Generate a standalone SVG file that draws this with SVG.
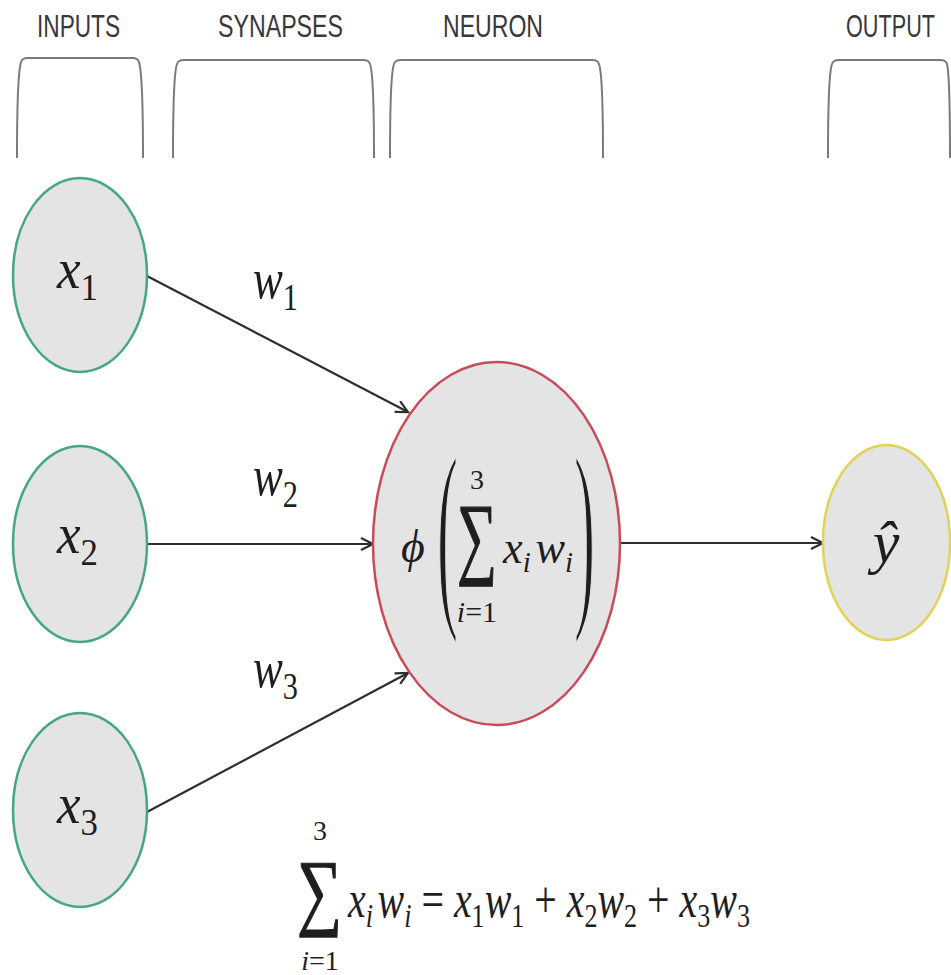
<svg xmlns="http://www.w3.org/2000/svg" width="951" height="975" viewBox="0 0 951 975">
<style>
.hdr{font-family:"Liberation Sans","DejaVu Sans Condensed",sans-serif;font-size:31px;fill:#383838}
.brk{fill:none;stroke:#7a7a7a;stroke-width:2}
.node{fill:#e4e4e4;stroke-width:2.5}
.in{stroke:#45a882}
.neu{stroke:#c84b5a}
.out{stroke:#e2d25a}
.m{font-family:"Liberation Serif","DejaVu Serif",serif;font-style:italic;fill:#1e1e1e}
.up{font-style:normal}
.sig{stroke:#1e1e1e;stroke-width:1.2}
.par{stroke:#e4e4e4;stroke-width:3}
.edge{stroke:#2e2e2e;stroke-width:2.2;fill:none}
</style>
<defs>
<marker id="ah" markerUnits="userSpaceOnUse" markerWidth="18" markerHeight="18" refX="13" refY="7" orient="auto">
<path d="M1,1 L13,7 L1,13" fill="none" stroke="#2e2e2e" stroke-width="2.2"/>
</marker>
</defs>
<rect width="951" height="975" fill="#ffffff"/>
<g id="headers">
<text class="hdr" x="37" y="37" textLength="83" lengthAdjust="spacingAndGlyphs">INPUTS</text>
<path class="brk" d="M17,158 C17,110 18,72 21,62 Q22,58 28,58 L132,58 Q138,58 139,62 C142,72 143,110 143,158"/>
<text class="hdr" x="218" y="37" textLength="125" lengthAdjust="spacingAndGlyphs">SYNAPSES</text>
<path class="brk" d="M173,158 C173,110 174,72 177,64 Q178,60 184,60 L363,60 Q369,60 370,64 C373,72 374,110 374,158"/>
<text class="hdr" x="443" y="37" textLength="100" lengthAdjust="spacingAndGlyphs">NEURON</text>
<path class="brk" d="M390,158 C390,110 391,72 394,64 Q395,60 401,60 L592,60 Q598,60 599,64 C602,72 603,110 603,158"/>
<text class="hdr" x="846" y="37" textLength="89" lengthAdjust="spacingAndGlyphs">OUTPUT</text>
<path class="brk" d="M828,158 C828,110 829,72 832,64 Q833,60 839,60 L940,60 Q946,60 947,64 C949,72 950,110 950,158"/>
</g>
<g id="connectors">
<line class="edge" x1="147" y1="276" x2="408" y2="412" marker-end="url(#ah)"/>
<line class="edge" x1="147" y1="544" x2="373" y2="544" marker-end="url(#ah)"/>
<line class="edge" x1="147" y1="812" x2="408" y2="673" marker-end="url(#ah)"/>
<line class="edge" x1="620" y1="543" x2="823" y2="543" marker-end="url(#ah)"/>
<text class="m" x="253" y="298" font-size="56" textLength="45" lengthAdjust="spacingAndGlyphs">w<tspan class="up" font-size="38" dy="12">1</tspan></text>
<text class="m" x="253" y="495" font-size="56" textLength="45" lengthAdjust="spacingAndGlyphs">w<tspan class="up" font-size="38" dy="12">2</tspan></text>
<text class="m" x="253" y="687" font-size="56" textLength="45" lengthAdjust="spacingAndGlyphs">w<tspan class="up" font-size="38" dy="12">3</tspan></text>
</g>
<g id="x1">
<ellipse class="node in" cx="80" cy="275" rx="67" ry="97"/>
<text class="m" x="57" y="288" font-size="58" textLength="41" lengthAdjust="spacingAndGlyphs">x<tspan class="up" font-size="38" dy="12">1</tspan></text>
</g>
<g id="x2">
<ellipse class="node in" cx="80" cy="544" rx="67" ry="98"/>
<text class="m" x="57" y="553" font-size="58" textLength="41" lengthAdjust="spacingAndGlyphs">x<tspan class="up" font-size="38" dy="12">2</tspan></text>
</g>
<g id="x3">
<ellipse class="node in" cx="80" cy="810" rx="67" ry="97"/>
<text class="m" x="57" y="823" font-size="58" textLength="41" lengthAdjust="spacingAndGlyphs">x<tspan class="up" font-size="38" dy="12">3</tspan></text>
</g>
<g id="neuron">
<ellipse class="node neu" cx="496.5" cy="543.5" rx="123.5" ry="181.5"/>
<text class="m" x="401" y="562" font-size="46">ϕ</text>
<text class="m up par" x="437" y="600" font-size="207" textLength="21" lengthAdjust="spacingAndGlyphs">(</text>
<text class="m up sig" x="457" y="567" font-size="91" textLength="40" lengthAdjust="spacingAndGlyphs">∑</text>
<text class="m up" x="477" y="489" font-size="28" text-anchor="middle">3</text>
<text class="m" x="477" y="622" font-size="30" text-anchor="middle">i<tspan class="up">=1</tspan></text>
<text class="m" x="503" y="563" font-size="46" textLength="70" lengthAdjust="spacingAndGlyphs">x<tspan font-size="30" dy="9">i</tspan><tspan dx="5" dy="-9">w</tspan><tspan font-size="30" dy="9">i</tspan></text>
<text class="m up par" x="574" y="600" font-size="207" textLength="21" lengthAdjust="spacingAndGlyphs">)</text>
</g>
<g id="output">
<ellipse class="node out" cx="886.5" cy="542.5" rx="63.5" ry="97.5"/>
<text class="m" x="886" y="562" font-size="60" text-anchor="middle">ŷ</text>
</g>
<g id="formula">
<text class="m up sig" x="297" y="919" font-size="85" textLength="45" lengthAdjust="spacingAndGlyphs">∑</text>
<text class="m up" x="320" y="840" font-size="28" text-anchor="middle">3</text>
<text class="m" x="320" y="970" font-size="28" text-anchor="middle">i<tspan class="up">=1</tspan></text>
<text class="m" x="348" y="917" font-size="52" textLength="402" lengthAdjust="spacingAndGlyphs">x<tspan font-size="34" dy="10">i</tspan><tspan dx="6" dy="-10">w</tspan><tspan font-size="34" dy="10">i</tspan><tspan class="up" dy="-10"> = </tspan>x<tspan class="up" font-size="34" dy="10">1</tspan><tspan dy="-10">w</tspan><tspan class="up" font-size="34" dy="10">1</tspan><tspan class="up" dy="-10"> + </tspan>x<tspan class="up" font-size="34" dy="10">2</tspan><tspan dy="-10">w</tspan><tspan class="up" font-size="34" dy="10">2</tspan><tspan class="up" dy="-10"> + </tspan>x<tspan class="up" font-size="34" dy="10">3</tspan><tspan dy="-10">w</tspan><tspan class="up" font-size="34" dy="10">3</tspan></text>
</g>
</svg>
